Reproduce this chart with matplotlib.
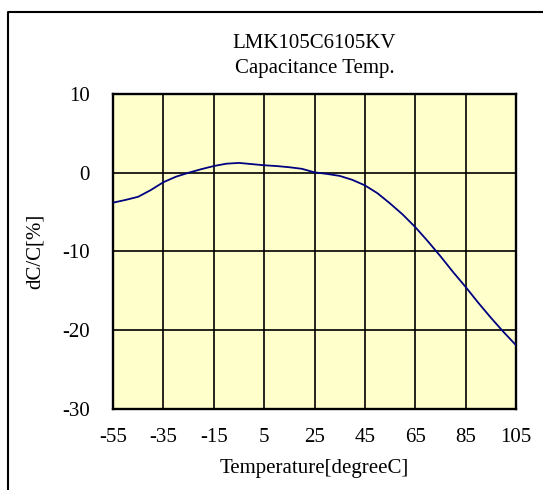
import matplotlib
matplotlib.use("Agg")
import matplotlib.pyplot as plt
from matplotlib.lines import Line2D

temps = [-55, -50, -45, -40, -35, -30, -25, -20, -15, -10, -5, 0, 5, 10, 15,
         20, 25, 30, 35, 40, 45, 50, 55, 60, 65, 70, 75, 80, 85, 90, 95, 100, 105]
dcc = [-3.8, -3.45, -3.05, -2.2, -1.2, -0.5, 0.0, 0.45, 0.85, 1.15, 1.25, 1.1,
       0.95, 0.85, 0.7, 0.5, 0.05, -0.15, -0.4, -0.9, -1.6, -2.6, -3.9, -5.3,
       -6.9, -8.7, -10.6, -12.6, -14.5, -16.5, -18.4, -20.2, -21.9]
x_ticks = [-55, -35, -15, 5, 25, 45, 65, 85, 105]
y_ticks = [10, 0, -10, -20, -30]
title_lines = ["LMK105C6105KV", "Capacitance Temp."]
x_label = "Temperature[degreeC]"
y_label = "dC/C[%]"

plt.rcParams['font.family'] = ['Liberation Serif', 'DejaVu Serif']
FS = 15
W, H = 543, 490
fig = plt.figure(figsize=(W / 100, H / 100), dpi=100)
fig.patch.set_facecolor('white')

L, R, T, B = 113, 516, 94, 409
ax = fig.add_axes([L / W, 1 - B / H, (R - L) / W, (B - T) / H])
ax.set_facecolor('#FFFFCC')
ax.plot(temps, dcc, color='#000080', lw=1.3, zorder=3)
ax.set_xlim(-55, 105)
ax.set_ylim(-30, 10)
ax.set_xticks(x_ticks)
ax.set_yticks(y_ticks)
ax.set_xticklabels([str(v) for v in x_ticks], fontsize=FS)
ax.set_yticklabels([str(v) for v in y_ticks], fontsize=FS)
ax.tick_params(length=0, pad=14)
ax.tick_params(axis='y', pad=16.5)
ax.grid(True, color='black', lw=1.2, zorder=1)
ax.set_axisbelow(True)
for s in ax.spines.values():
    s.set_linewidth(1.7)
    s.set_color('black')

fig.text(314.5 / W, 1 - 48 / H, title_lines[0], ha='center', va='baseline', fontsize=FS)
fig.text(314.5 / W, 1 - 73 / H, title_lines[1], ha='center', va='baseline', fontsize=FS)
fig.text(314.5 / W, 1 - 473 / H, x_label, ha='center', va='baseline', fontsize=FS)
fig.text(35 / W, 1 - 251 / H, y_label, ha='center', va='center', rotation=90, fontsize=FS)

fig.add_artist(Line2D([8 / W, 8 / W, 1.0], [0.0, 1 - 12 / H, 1 - 12 / H],
                      transform=fig.transFigure, color='black', lw=1.5))

fig.savefig('out.png', dpi=100)
